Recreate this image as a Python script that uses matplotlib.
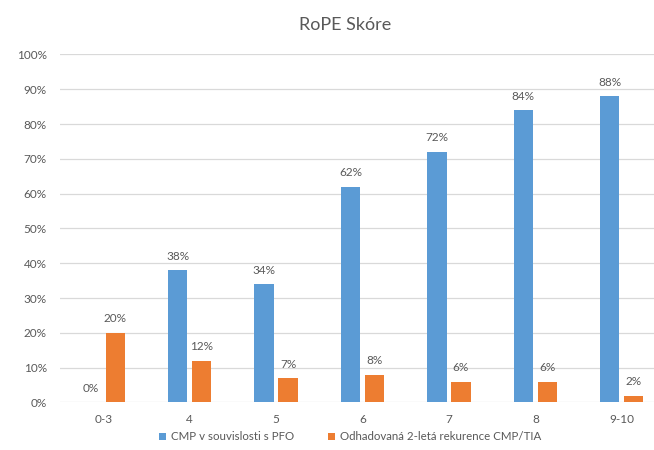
import numpy as np
import matplotlib
matplotlib.use("Agg")
import matplotlib.pyplot as plt
from matplotlib.ticker import PercentFormatter

# data
categories = ["0-3", "4", "5", "6", "7", "8", "9-10"]
cmp_pfo = [0, 38, 34, 62, 72, 84, 88]
recurrence = [20, 12, 7, 8, 6, 6, 2]
series_names = ["CMP v souvislosti s PFO", "Odhadovaná 2-letá rekurence CMP/TIA"]
title = "RoPE Skóre"

BLUE = "#5B9BD5"
ORANGE = "#ED7D31"
TEXT = "#595959"
GRID = "#D9D9D9"

plt.rcParams["font.family"] = ["Lato", "DejaVu Sans"]

fig = plt.figure(figsize=(6.54, 4.5), dpi=100)
ax = fig.add_axes([60 / 654, 0.1056, 605 / 654, 0.7733])

x = np.arange(len(categories))
width = 0.224
offset = 0.139

bars_a = ax.bar(x - offset, cmp_pfo, width, color=BLUE, label=series_names[0], zorder=3)
bars_b = ax.bar(x + offset, recurrence, width, color=ORANGE, label=series_names[1], zorder=3)

for bars, vals in [(bars_a, cmp_pfo), (bars_b, recurrence)]:
    for b, v in zip(bars, vals):
        ax.annotate(f"{v}%", (b.get_x() + b.get_width() / 2, v),
                    xytext=(0, 14), textcoords="offset pixels",
                    ha="center", va="center", fontsize=8.5, color=TEXT)

ax.set_xlim(-0.5, len(categories) - 0.5)
ax.set_ylim(0, 100)
ax.set_yticks(np.arange(0, 101, 10))
ax.yaxis.set_major_formatter(PercentFormatter(decimals=0))
ax.set_xticks(x)
ax.set_xticklabels(categories)

ax.grid(axis="y", color=GRID, linewidth=0.9, zorder=0)
for s in ax.spines.values():
    s.set_visible(False)
ax.tick_params(axis="both", length=0, labelsize=8.5, colors=TEXT)
ax.tick_params(axis="y", pad=9.5)
ax.tick_params(axis="x", pad=8)

fig.text(345 / 654, 1 - 25 / 450, title, ha="center", va="center",
         fontsize=13, color=TEXT)

fig.legend(loc="center", bbox_to_anchor=(350 / 654, 1 - 437 / 450), ncol=2,
           frameon=False, fontsize=8.3, labelcolor=TEXT, handlelength=0.6,
           handleheight=0.6, handletextpad=0.4, columnspacing=3.0)

fig.savefig("out.png", dpi=100)
